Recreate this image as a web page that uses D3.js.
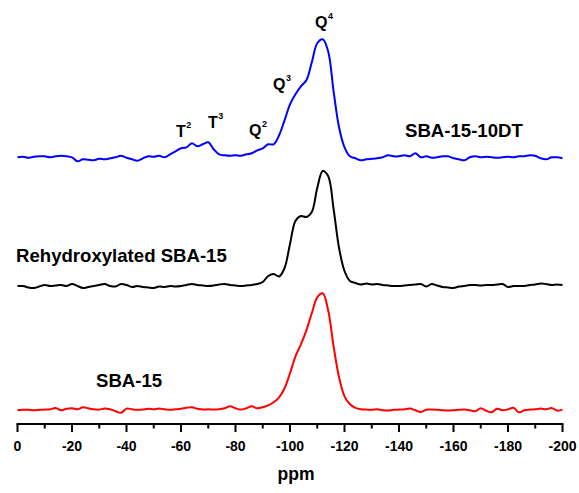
<!DOCTYPE html>
<html>
<head>
<meta charset="utf-8">
<script src="https://cdn.jsdelivr.net/npm/d3@7"></script>
<style>
  html, body { margin: 0; padding: 0; background: #fff; }
  svg { display: block; font-family: "Liberation Sans", Arial, sans-serif; }
</style>
</head>
<body>
<svg id="chart" width="579" height="493"></svg>
<script>
// chemical shift grid (ppm)
const ppm = [0,-2,-4,-6,-8,-10,-12,-14,-16,-18,-20,-22,-24,-26,-28,-30,-32,-34,-36,-38,-40,
  -42,-44,-46,-48,-50,-52,-54,-56,-58,-60,-62,-64,-66,-68,-70,-72,-74,-76,-78,-80,
  -82,-84,-86,-88,-90,-92,-94,-96,-98,-100,-102,-104,-106,-108,-110,-112,-114,-116,-118,-120,
  -122,-124,-126,-128,-130,-132,-134,-136,-138,-140,-142,-144,-146,-148,-150,-152,-154,-156,-158,-160,
  -162,-164,-166,-168,-170,-172,-174,-176,-178,-180,-182,-184,-186,-188,-190,-192,-194,-196,-198,-200];

// intensities (arbitrary units)
const sba15_10DT = [0,0.5,-0.5,0.5,1,1,0,1,1.5,1,0,-4,-2,-2.5,-3,-1.5,-2,-1,0,1.5,-0.5,
  -2,-3.5,-1,1,0.5,1.5,0,3,6,9,10,14,11,13,15,8,3,2,1.5,2,
  1.5,3,4,7,9,13,13,22,37,53,63,71,77,95,114,118,106,66,30,10,
  1,-1,-3,-2,-1.5,-1,0,2,1,1,2,1,4,0,1,-0.5,0,1,1,-1,
  -2,-3,0,1,0,0.5,0,-0.5,0,0.5,0,1,1,2,1.5,-1,-2,0,0,-1];

const rehydroxylated = [0,0,-1.5,-2,-0.5,1,0,0.5,1,0,2,0,-2,-1,0,1,2,0,-0.5,2,1,
  -1,0,-1,-1.5,-2,-0.5,-1,0,-0.5,0,1,2,1,0.5,0,0.5,1.5,2,1,0.5,
  0,0.5,1,2,4,10,12,9.5,18,42,65,70,69,74,98,115,110,77,38,15,
  5,3,1.5,2.5,1.5,2,1,0.5,0,0,0.5,1,1.5,2,-0.5,2,0.5,-1,-1.5,-2,
  -0.5,0,1,1,0.5,1,1,1.5,2,-1,0,0,0,1,1.5,2.5,2,1,1.5,1];

const sba15 = [0,0.5,0.5,0,0.5,0.7,1,2.4,0,1.5,2,1,3,2,1,0.7,1.7,1,-1,-2.5,1.7,
  1,0.5,0.7,1.5,1,1.7,1,0.5,1,1.5,2.5,3,1.5,0.7,1,0.7,1,2,4,2,
  0.7,2,4,2,3,5,8,13,22,37,54,66,80,97,113,117,100,64,33,14,
  6,2.4,1,0.7,0.5,1,0,-0.3,0.5,0.7,1,1.7,0,-1.6,0.5,0.7,0.5,0,-0.3,0,
  0.5,0.7,0,-1,2,-0.5,-2,1.5,0,1,2.5,-2,0,0.7,1,1.7,1,2.4,-0.3,0.7];

const seriesNames = ["SBA-15-10DT", "Rehydroxylated SBA-15", "SBA-15"];
const seriesValues = [sba15_10DT, rehydroxylated, sba15];
const seriesColors = ["#0000ff", "#000000", "#ff0000"];

const xTicks = [0,-20,-40,-60,-80,-100,-120,-140,-160,-180,-200];
const xMinorTicks = [-10,-30,-50,-70,-90,-110,-130,-150,-170,-190];

const peakLabels = [
  {base: "T", sup: "2"},
  {base: "T", sup: "3"},
  {base: "Q", sup: "2"},
  {base: "Q", sup: "3"},
  {base: "Q", sup: "4"}
];

// ---------------- layout ----------------
const svg = d3.select("#chart");
const axisY = 424;
const x = d3.scaleLinear().domain([0, -200]).range([17.5, 562.5]);

// vertical stacking: baseline pixel for each trace
const baselines = [157.3, 286, 410.3];
const pxPerUnit = 1;

const line = (base) => d3.line()
  .x((d, i) => x(ppm[i]))
  .y(d => base - d * pxPerUnit)
  .curve(d3.curveCatmullRom.alpha(0.5));

seriesValues.forEach((vals, k) => {
  svg.append("path")
    .datum(vals)
    .attr("d", line(baselines[k]))
    .attr("fill", "none")
    .attr("stroke", seriesColors[k])
    .attr("stroke-width", 2)
    .attr("stroke-linejoin", "round");
});

// axis
const gAxis = svg.append("g").attr("transform", `translate(0,${axisY})`);
gAxis.append("line")
  .attr("x1", x(0) - 1).attr("x2", x(-200) + 1)
  .attr("y1", 0).attr("y2", 0)
  .attr("stroke", "#000").attr("stroke-width", 2);
gAxis.selectAll("line.major").data(xTicks).enter().append("line")
  .attr("class", "major")
  .attr("x1", d => x(d)).attr("x2", d => x(d))
  .attr("y1", 0).attr("y2", 8)
  .attr("stroke", "#000").attr("stroke-width", 2);
gAxis.selectAll("line.minor").data(xMinorTicks).enter().append("line")
  .attr("class", "minor")
  .attr("x1", d => x(d)).attr("x2", d => x(d))
  .attr("y1", 0).attr("y2", 4.5)
  .attr("stroke", "#000").attr("stroke-width", 2);
gAxis.selectAll("text").data(xTicks).enter().append("text")
  .attr("x", d => x(d))
  .attr("y", 27)
  .attr("text-anchor", "middle")
  .attr("font-size", 14)
  .attr("font-weight", "bold")
  .text(d => d === 0 ? "0" : "-" + Math.abs(d));

svg.append("text")
  .attr("x", 296).attr("y", 480)
  .attr("text-anchor", "middle")
  .attr("font-size", 17.5)
  .attr("font-weight", "bold")
  .text("ppm");

// series labels
const seriesLabelPos = [[405, 137], [16, 262], [96, 387]];
seriesNames.forEach((n, k) => {
  svg.append("text")
    .attr("x", seriesLabelPos[k][0]).attr("y", seriesLabelPos[k][1])
    .attr("font-size", 18.6)
    .attr("font-weight", "bold")
    .attr("fill", "#000")
    .text(n);
});

// peak labels
const peakPos = [[176, 137], [208, 128], [249, 136], [273, 90], [315, 28]];
peakLabels.forEach((p, k) => {
  const t = svg.append("text")
    .attr("x", peakPos[k][0]).attr("y", peakPos[k][1])
    .attr("font-size", 16)
    .attr("font-weight", "bold");
  t.append("tspan").text(p.base);
  t.append("tspan").attr("dy", -9).attr("dx", 0.5).attr("font-size", 9).text(p.sup);
});
</script>
</body>
</html>
